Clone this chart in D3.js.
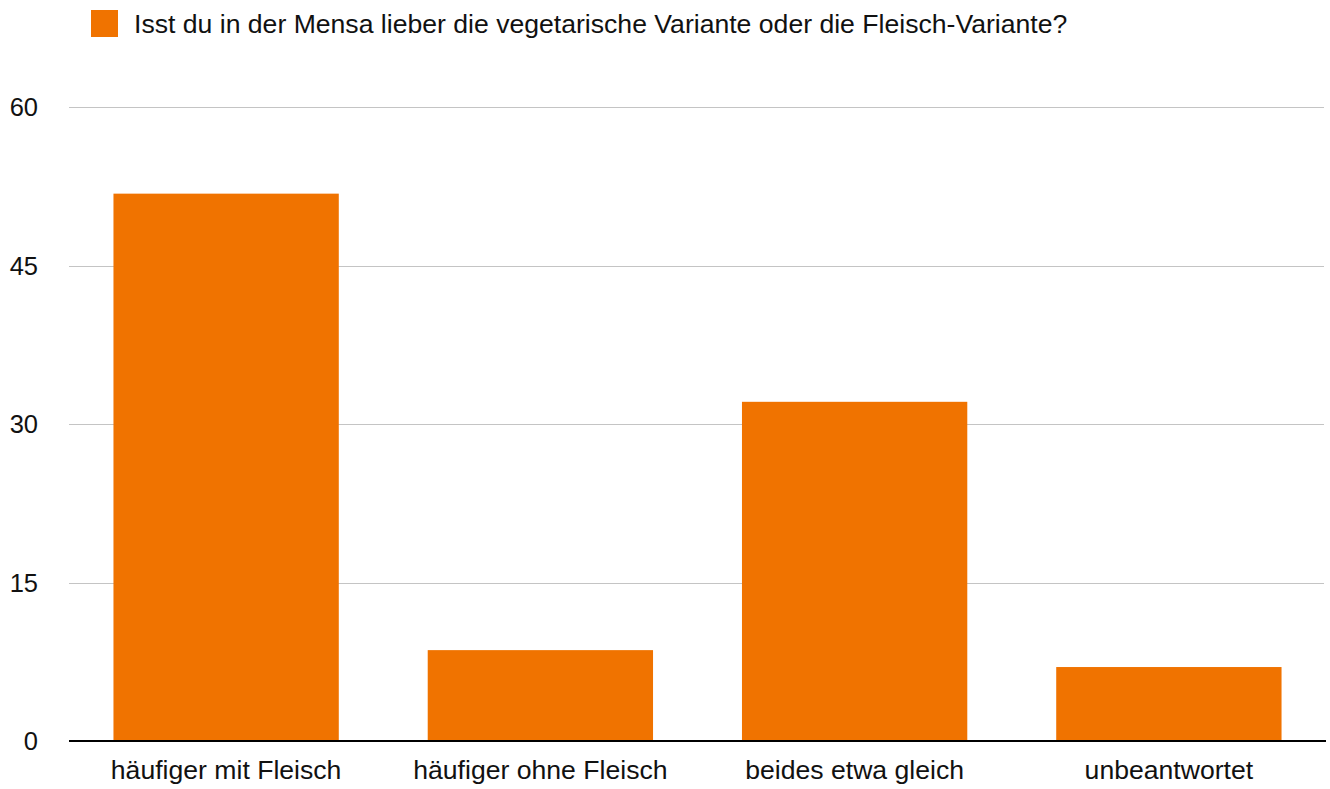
<!DOCTYPE html>
<html>
<head>
<meta charset="utf-8">
<style>
  body { margin: 0; background: #fff; }
  svg text { font-family: "Liberation Sans", Arial, sans-serif; fill: #111; }
</style>
</head>
<body>
<svg width="1330" height="789"></svg>
<script src="https://d3js.org/d3.v7.min.js"></script>
<script>
// data (percent)
var categories = ["häufiger mit Fleisch", "häufiger ohne Fleisch", "beides etwa gleich", "unbeantwortet"];
var values = [51.8, 8.6, 32.1, 7.0];
var yTicks = [0, 15, 30, 45, 60];
var seriesName = "Isst du in der Mensa lieber die vegetarische Variante oder die Fleisch-Variante?";

var svg = d3.select("svg"),
    margin = {top: 107, right: 4, bottom: 48, left: 69},
    width = +svg.attr("width") - margin.left - margin.right,
    height = +svg.attr("height") - margin.top - margin.bottom;

var color = "#f07300";
var fontSize = "26.6px";

var x = d3.scaleBand()
    .domain(categories)
    .range([0, width])
    .paddingInner(0.283)
    .paddingOuter(0.1415);

var y = d3.scaleLinear()
    .domain([0, 60])
    .range([height, 0]);

var g = svg.append("g")
    .attr("transform", "translate(" + margin.left + "," + margin.top + ")");

// grid lines
g.selectAll(".grid")
    .data(yTicks.filter(function(d){ return d > 0; }))
    .enter().append("line")
    .attr("x1", 0)
    .attr("x2", width - 2)
    .attr("y1", function(d){ return Math.round(y(d)) + 0.5; })
    .attr("y2", function(d){ return Math.round(y(d)) + 0.5; })
    .attr("stroke", "#c4c4c4")
    .attr("stroke-width", 1);

// y labels
g.selectAll(".ylab")
    .data(yTicks)
    .enter().append("text")
    .attr("x", -31)
    .attr("y", function(d){ return y(d); })
    .attr("dy", "0.36em")
    .attr("text-anchor", "end")
    .style("font-size", "25.5px")
    .text(function(d){ return d; });

// bars
g.selectAll(".bar")
    .data(values)
    .enter().append("rect")
    .attr("x", function(d, i){ return x(categories[i]); })
    .attr("y", function(d){ return y(d); })
    .attr("width", x.bandwidth())
    .attr("height", function(d){ return height - y(d); })
    .attr("fill", color);

// baseline
g.append("line")
    .attr("x1", 0)
    .attr("x2", width)
    .attr("y1", y(0))
    .attr("y2", y(0))
    .attr("stroke", "#000")
    .attr("stroke-width", 2);

// x labels
g.selectAll(".xlab")
    .data(categories)
    .enter().append("text")
    .attr("x", function(d){ return x(d) + x.bandwidth() / 2; })
    .attr("y", height + 38)
    .attr("text-anchor", "middle")
    .style("font-size", fontSize)
    .text(function(d){ return d; });

// legend
var lg = svg.append("g");
lg.append("rect")
    .attr("x", 91).attr("y", 10)
    .attr("width", 27).attr("height", 27)
    .attr("fill", color);
lg.append("text")
    .attr("x", 134)
    .attr("y", 33)
    .style("font-size", fontSize)
    .text(seriesName);
</script>
</body>
</html>
